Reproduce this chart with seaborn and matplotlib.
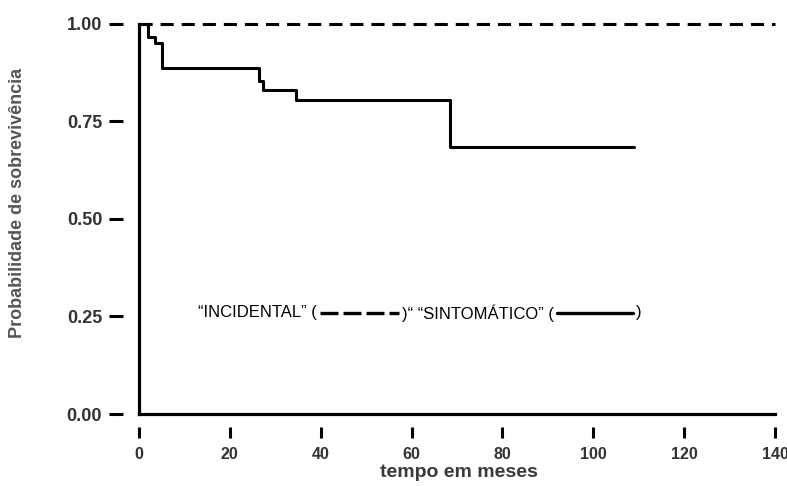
import numpy as np
import pandas as pd
import seaborn as sns
import matplotlib.pyplot as plt
from matplotlib.lines import Line2D
from matplotlib.offsetbox import AnchoredOffsetbox, DrawingArea, HPacker, TextArea

# Kaplan-Meier curves
tempo_incidental = [0, 140]
surv_incidental = [1.0, 1.0]
tempo_sintomatico = [0, 2.0, 3.5, 5.1, 26.5, 27.3, 34.6, 68.5, 109.0]
surv_sintomatico = [1.0, 0.966, 0.950, 0.885, 0.853, 0.830, 0.803, 0.683, 0.683]

x_ticks = [0, 20, 40, 60, 80, 100, 120, 140]
y_ticks = [0.0, 0.25, 0.50, 0.75, 1.0]
y_tick_labels = ['0.00', '0.25', '0.50', '0.75', '1.00']

df = pd.concat([
    pd.DataFrame({'tempo': tempo_incidental, 'surv': surv_incidental, 'grupo': 'INCIDENTAL'}),
    pd.DataFrame({'tempo': tempo_sintomatico, 'surv': surv_sintomatico, 'grupo': 'SINTOMÁTICO'}),
], ignore_index=True)

sns.set_style('white')
plt.rcParams['font.family'] = ['Liberation Sans', 'DejaVu Sans']

fig = plt.figure(figsize=(7.87, 4.86), dpi=100)
ax = fig.add_axes([0.1766, 0.1481, 0.8081, 0.8035])

sns.lineplot(data=df, x='tempo', y='surv', style='grupo', color='black',
             dashes={'INCIDENTAL': (4.3, 2.6), 'SINTOMÁTICO': ''},
             drawstyle='steps-post', estimator=None, sort=False,
             linewidth=2.2, legend=False, clip_on=False, ax=ax)

ax.set_xlim(0, 140)
ax.set_ylim(0, 1)
ax.set_xticks(x_ticks)
ax.set_yticks(y_ticks)
ax.set_yticklabels(y_tick_labels)

# ticks sit away from the axis lines: offset invisible spines, draw the axis lines by hand
sns.despine(ax=ax)
ax.spines['left'].set_position(('outward', 11.5))
ax.spines['bottom'].set_position(('outward', 9.4))
ax.spines['left'].set_visible(False)
ax.spines['bottom'].set_visible(False)
ax.axvline(0, color='black', lw=2.3, clip_on=False, solid_capstyle='projecting')
ax.axhline(0, color='black', lw=2.3, clip_on=False, solid_capstyle='projecting')

ax.tick_params(axis='y', left=True, length=10, width=2.2, pad=5, color='black',
               labelsize=13, labelcolor='#333333')
ax.tick_params(axis='x', bottom=True, length=8, width=2.2, pad=6.5, color='black',
               labelsize=11.5, labelcolor='#333333')
for lab in ax.get_xticklabels() + ax.get_yticklabels():
    lab.set_fontweight('bold')

ax.set_xlabel('tempo em meses', fontsize=14, fontweight='bold', color='#3a3a3a')
ax.set_ylabel('Probabilidade de sobrevivência', fontsize=13, fontweight='bold', color='#555555')
ax.xaxis.set_label_coords(0.503, -0.128)
ax.yaxis.set_label_coords(-0.177, 0.54)

# inline legend: text with drawn line samples
def sample(width, dashed):
    da = DrawingArea(width, 10, 0, 0)
    ls = (0, (5.4, 1.5)) if dashed else '-'
    da.add_artist(Line2D([0, width], [5, 5], color='black', lw=2.4, linestyle=ls))
    return da

tprops = dict(fontsize=12, color='black')
legend_box = HPacker(children=[
    TextArea('\u201cINCIDENTAL\u201d (', textprops=tprops),
    sample(57, True),
    TextArea(')\u201c \u201cSINTOMÁTICO\u201d (', textprops=tprops),
    sample(55, False),
    TextArea(')', textprops=tprops),
], align='center', pad=0, sep=2)
anchored = AnchoredOffsetbox(loc='center left', child=legend_box, pad=0, borderpad=0,
                             frameon=False, bbox_to_anchor=(0.093, 0.259),
                             bbox_transform=ax.transAxes)
ax.add_artist(anchored)

fig.savefig('out.png', dpi=100)
